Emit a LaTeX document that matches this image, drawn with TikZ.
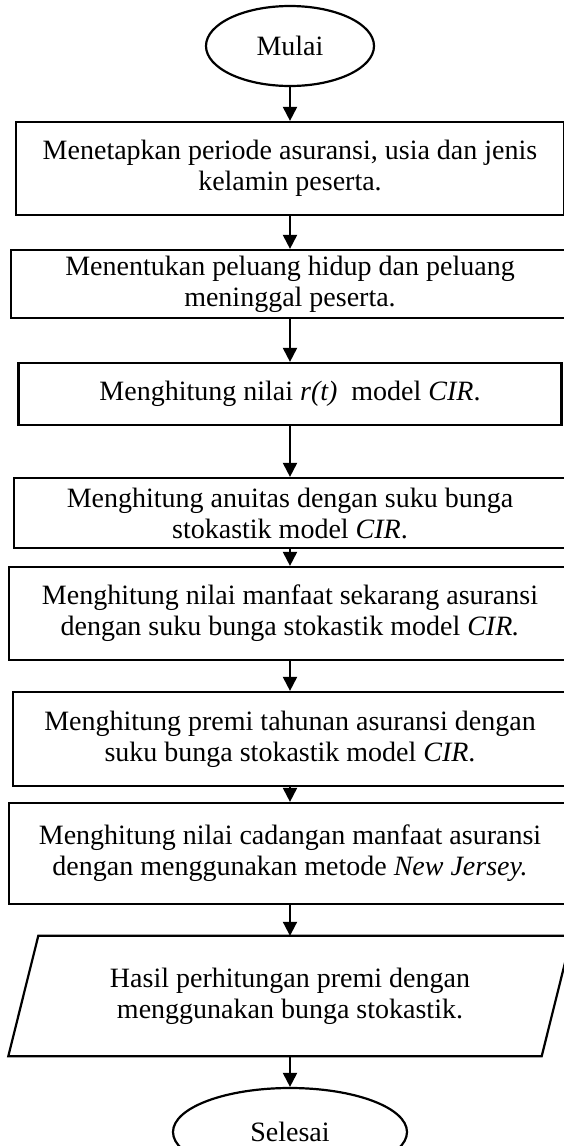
\documentclass[tikz,border=0pt]{standalone}
\usepackage{fontspec}
\setmainfont{Liberation Serif}
\usetikzlibrary{shapes.geometric, arrows.meta}

\begin{document}
\begin{tikzpicture}[x=1pt, y=-1pt,
    txt/.style={font=\fontsize{28}{31}\selectfont, align=center, inner sep=0pt},
    stepbox/.style={txt, draw, line width=2.2pt},
    terminal/.style={txt, draw, ellipse, line width=2.2pt},
    flow/.style={line width=2pt, -{Triangle[length=14pt, width=14pt]}}]
\useasboundingbox (0,0) rectangle (564,1146);
\clip (0,0) rectangle (564,1146);

% Draw start and end
\node[terminal, minimum width=168, minimum height=80] (mulai) at (290,46) {Mulai};
\node[terminal, minimum width=234, minimum height=88] (selesai) at (290,1132) {Selesai};

% Draw steps
\node[stepbox, minimum width=548, minimum height=93] (s1) at (290,168.5)
    {Menetapkan periode asuransi, usia dan jenis\\kelamin peserta.};
\node[stepbox, minimum width=558, minimum height=68] (s2) at (290,284)
    {Menentukan peluang hidup dan peluang\\meninggal peserta.};
\node[stepbox, minimum width=543, minimum height=62] (s3) at (290,394)
    {Menghitung nilai \textit{r(t)}\ \ model \textit{CIR}.};
\node[stepbox, minimum width=552, minimum height=70] (s4) at (290,513)
    {Menghitung anuitas dengan suku bunga\\stokastik model \textit{CIR}.};
\node[stepbox, minimum width=562, minimum height=93] (s5) at (290,613.5)
    {Menghitung nilai manfaat sekarang asuransi\\dengan suku bunga stokastik model \textit{CIR.}};
\node[stepbox, minimum width=554, minimum height=94] (s6) at (290,739)
    {Menghitung premi tahunan asuransi dengan\\suku bunga stokastik model \textit{CIR}.};
\node[stepbox, minimum width=562, minimum height=101] (s7) at (290,853.5)
    {Menghitung nilai cadangan manfaat asuransi\\dengan menggunakan metode \textit{New Jersey.}};

% Draw output
\node[txt, minimum width=533, minimum height=120] (hasil) at (290,996)
    {Hasil perhitungan premi dengan\\menggunakan bunga stokastik.};
\draw[line width=2.2pt, line join=miter]
    ([xshift=-15pt]hasil.south west) -- ([xshift=-15pt]hasil.south east)
    -- ([xshift=15pt]hasil.north east) -- ([xshift=15pt]hasil.north west) -- cycle;

% Draw arrows
\foreach \a/\b in {mulai/s1, s1/s2, s2/s3, s3/s4, s4/s5, s5/s6, s6/s7, s7/hasil, hasil/selesai} {
    \draw[flow] (\a) -- (\b);
}
\end{tikzpicture}
\end{document}
